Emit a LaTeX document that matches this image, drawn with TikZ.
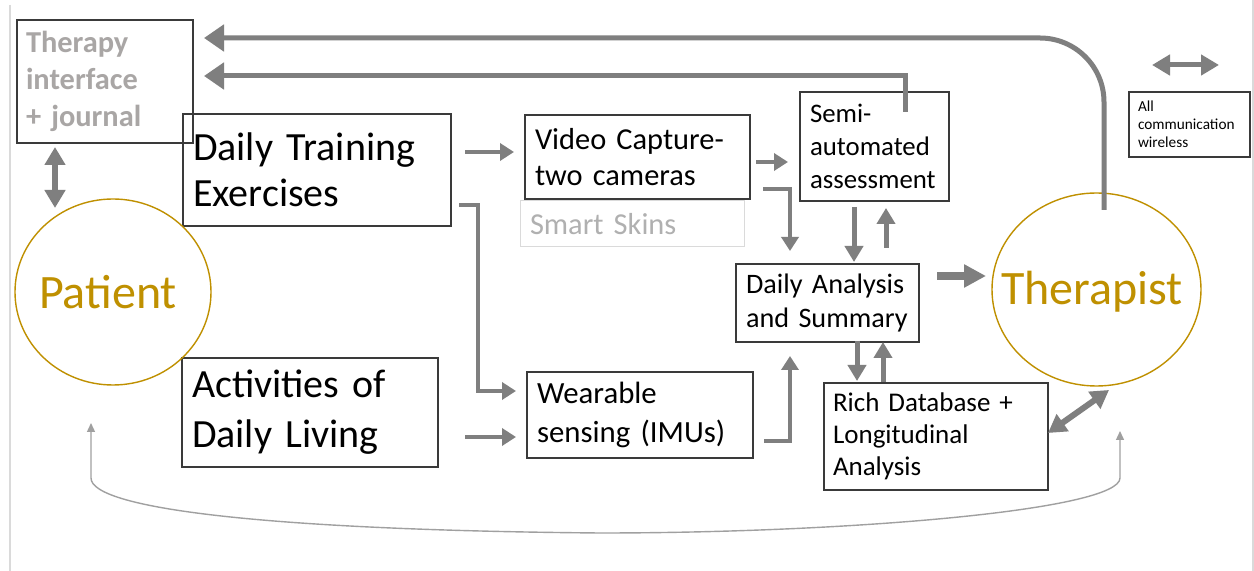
\documentclass[tikz,border=0pt]{standalone}
\usepackage{fontspec}
\setmainfont{Carlito}
\usetikzlibrary{arrows.meta,shapes.geometric}
\definecolor{arrgray}{HTML}{7F7F7F}
\definecolor{gold}{HTML}{BF9000}
\definecolor{txtgray}{HTML}{A9A6A5}
\definecolor{lightgray2}{HTML}{B0B0B0}
\definecolor{edgec}{HTML}{3A3A3A}
\definecolor{slide}{HTML}{DADADA}
\definecolor{thingray}{HTML}{A0A0A0}
\begin{document}
\begin{tikzpicture}[x=0.5pt,y=-0.5pt,
  box/.style={draw=edgec, line width=0.7pt, inner xsep=0pt, inner ysep=0pt, align=left, anchor=center},
  circ/.style={ellipse, draw=gold, line width=0.7pt, inner sep=0pt},
  circtext/.style={text=gold, inner sep=0pt, font=\fontsize{24}{28}\selectfont},
  arr/.style={draw=arrgray, line width=2.2pt, -{Triangle[length=7pt,width=8.5pt]}},
  vertarr/.style={draw=arrgray, line width=2.5pt, -{Triangle[length=8pt,width=9pt]}},
  toparr/.style={draw=arrgray, line width=2.5pt, -{Triangle[length=10pt,width=13pt]}},
  fatarr/.style={draw=arrgray, line width=4pt, -{Triangle[length=11pt,width=11pt]}},
  dblarr/.style={draw=arrgray, line width=3pt, {Triangle[length=9pt,width=10pt]}-{Triangle[length=9pt,width=10pt]}},
  thinarr/.style={draw=thingray, line width=0.7pt, {Triangle[length=4.5pt,width=4pt]}-{Triangle[length=4.5pt,width=4pt]}}
]
\useasboundingbox (0,0) rectangle (1254,571);
\fill[white] (0,0) rectangle (1254,571);
% slide borders
\draw[slide, line width=1pt] (9.5,5) -- (9.5,571);
\draw[slide, line width=1pt] (1252.5,0) -- (1252.5,571);

% nodes
\node[box, minimum width=88pt, minimum height=61.5pt, text width=79pt, text=txtgray,
      font=\bfseries\fontsize{15.2}{18.5}\selectfont] (therapy) at (105,81.5) {Therapy\\interface\\+ journal};
\node[box, minimum width=134pt, minimum height=56pt, text width=124pt,
      font=\fontsize{20}{23}\selectfont] (train) at (317,170) {Daily Training\\Exercises};
\node[box, minimum width=128pt, minimum height=54.5pt, text width=118pt,
      font=\fontsize{20}{25}\selectfont] (adl) at (310,412.5) {Activities of\\Daily Living};
\node[box, minimum width=112.5pt, minimum height=42pt, text width=102.5pt,
      font=\fontsize{15.2}{18}\selectfont] (video) at (637.5,157) {Video Capture-\\two cameras};
\node[box, draw=slide, line width=0.5pt, minimum width=112pt, minimum height=23pt, text width=102pt, text=lightgray2,
      font=\fontsize{15.2}{18}\selectfont] (skins) at (632,224) {Smart Skins};
\node[box, minimum width=74.5pt, minimum height=54.5pt, text width=64.5pt,
      font=\fontsize{13.4}{16.5}\selectfont] (semi) at (874.5,146.5) {Semi-\\automated\\assessment};
\node[box, minimum width=91.5pt, minimum height=39pt, text width=81.5pt,
      font=\fontsize{14.1}{17}\selectfont] (da) at (827.5,303) {Daily Analysis\\and Summary};
\node[box, minimum width=113pt, minimum height=43pt, text width=103pt,
      font=\fontsize{15.4}{19.5}\selectfont] (wear) at (640,415) {Wearable\\sensing (IMUs)};
\node[box, minimum width=112pt, minimum height=53.5pt, text width=103pt,
      font=\fontsize{13.5}{16}\selectfont] (rich) at (936,436.5) {Rich Database +\\Longitudinal\\Analysis};
\node[box, minimum width=60.5pt, minimum height=32.5pt, text width=51.5pt,
      font=\fontsize{7.65}{9}\selectfont] (wireless) at (1189.5,124.5) {All\\communication\\wireless};
\node[circ, minimum width=98pt, minimum height=93pt] (patient) at (113,292) {};
\node[circtext] (patientlbl) at (108,292) {Patient};
\node[circ, minimum width=104.5pt, minimum height=96.5pt] (therapist) at (1096.5,289.5) {};
\node[circtext] (therapistlbl) at (1092,292) {Therapist};

% coordinates for connector ends
\coordinate (t1s) at (1104,210);
\coordinate (t1c) at (1104,38);
\coordinate (t1e) at (204,38);
\coordinate (t2s) at (905,112);
\coordinate (t2c) at (905,76);
\coordinate (t2e) at (204,76);
\coordinate (pa1) at (55,147);
\coordinate (pa2) at (55,208);
\coordinate (tv1) at (465,152);
\coordinate (tv2) at (514,152);
\coordinate (vs1) at (756,162);
\coordinate (vs2) at (788,162);
\coordinate (vd1) at (763,189);
\coordinate (vd2) at (790,189);
\coordinate (vd3) at (790,251);
\coordinate (sd1) at (854,207);
\coordinate (sd2) at (854,262);
\coordinate (ds1) at (886,248);
\coordinate (ds2) at (886,208);
\coordinate (dt1) at (937,276);
\coordinate (dt2) at (986,276);
\coordinate (dr1) at (857,341);
\coordinate (dr2) at (857,381);
\coordinate (rd1) at (883,382);
\coordinate (rd2) at (883,342);
\coordinate (rt1) at (1048,433);
\coordinate (rt2) at (1109,390);
\coordinate (tw1) at (459,205);
\coordinate (tw2) at (478,205);
\coordinate (tw3) at (478,391);
\coordinate (tw4) at (516,391);
\coordinate (aw1) at (465,437);
\coordinate (aw2) at (516,437);
\coordinate (wd1) at (764,441);
\coordinate (wd2) at (790,441);
\coordinate (wd3) at (790,356);
\coordinate (w1) at (1152,65);
\coordinate (w2) at (1219,65);
\coordinate (bl) at (91,423);
\coordinate (br) at (1120,431);

% connectors
\draw[toparr, rounded corners=32pt] (t1s) -- (t1c) -- (t1e);
\draw[toparr] (t2s) -- (t2c) -- (t2e);
\draw[dblarr] (pa1) -- (pa2);
\draw[arr] (tv1) -- (tv2);
\draw[arr] (vs1) -- (vs2);
\draw[arr] (vd1) -- (vd2) -- (vd3);
\draw[vertarr] (sd1) -- (sd2);
\draw[vertarr] (ds1) -- (ds2);
\draw[fatarr] (dt1) -- (dt2);
\draw[vertarr] (dr1) -- (dr2);
\draw[vertarr] (rd1) -- (rd2);
\draw[dblarr] (rt1) -- (rt2);
\draw[arr] (tw1) -- (tw2) -- (tw3) -- (tw4);
\draw[arr] (aw1) -- (aw2);
\draw[arr] (wd1) -- (wd2) -- (wd3);
\draw[dblarr, line width=2.5pt] (w1) -- (w2);
\draw[thinarr] (bl) -- (91,478) .. controls (91,508) and (260,530) .. (600,533)
   .. controls (850,533) and (1120,510) .. (1120,478) -- (br);
\end{tikzpicture}
\end{document}
